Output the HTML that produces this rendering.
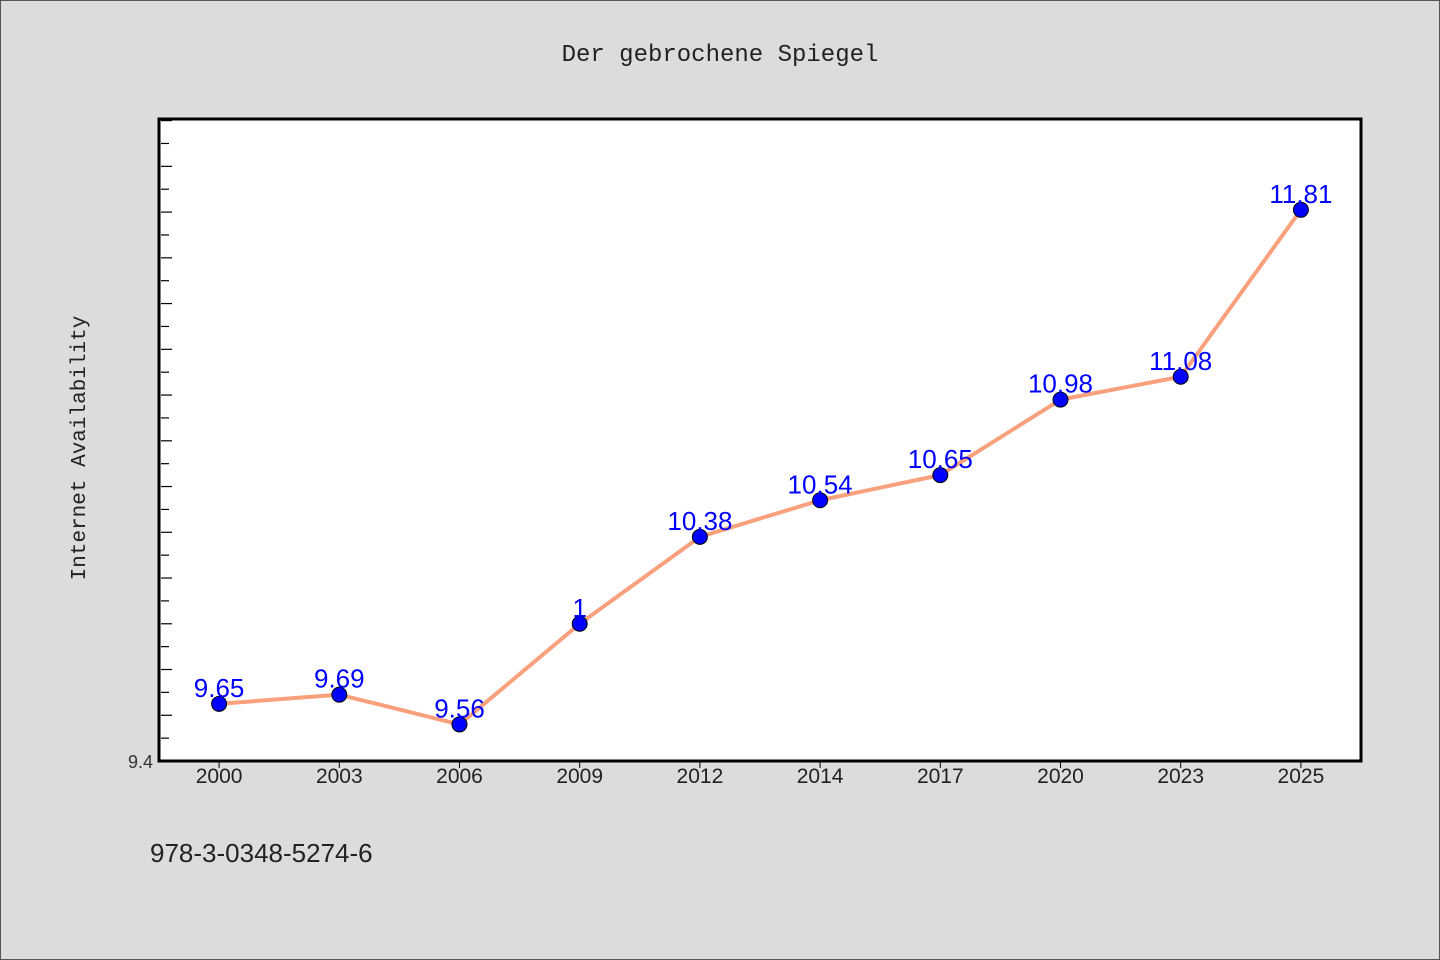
<!DOCTYPE html>
<html><head><meta charset="utf-8"><style>
html,body{margin:0;padding:0;background:#dcdcdc;}
svg{display:block;font-family:"Liberation Sans","WenQuanYi Zen Hei",sans-serif;}
</style></head><body>
<svg width="1440" height="960">
<rect x="0.5" y="0.5" width="1439" height="959" fill="#dcdcdc" stroke="#555"/>
<text x="720" y="61" text-anchor="middle" font-size="24" fill="#222" font-family="'Liberation Mono',monospace">Der gebrochene Spiegel</text>
<rect x="159" y="119" width="1202" height="642" fill="#fff" stroke="#000" stroke-width="3"/>
<g id="ticks"></g>
<text transform="translate(85,448) rotate(-90)" text-anchor="middle" font-size="21" fill="#222" font-family="'Liberation Mono',monospace">Internet Availability</text>
<text x="153" y="768" text-anchor="end" font-size="18" fill="#333">9.4</text>
<g id="xlabels"></g>
<polyline id="line" fill="none" stroke="#f9a07c" stroke-width="4" stroke-linejoin="round"/>
<g id="points"></g>
<text x="150" y="862" font-size="26" fill="#222">978-3-0348-5274-6</text>
</svg>
<script>
const categories=["2000","2003","2006","2009","2012","2014","2017","2020","2023","2025"];
const values=[9.65,9.69,9.56,10.0,10.38,10.54,10.65,10.98,11.08,11.81];
const labels=["9.65","9.69","9.56","1","10.38","10.54","10.65","10.98","11.08","11.81"];
const yMin=9.4,yMax=12.207;
const NS="http://www.w3.org/2000/svg";
const L=159,R=1361,T=119,B=761;
const step=(R-L)/categories.length;
function x(i){return L+step*(i+0.5);}
function y(v){return B-(v-yMin)/(yMax-yMin)*(B-T);}
const tk=document.getElementById('ticks');
for(let k=1;yMin+k*0.1<yMax;k++){
  const v=yMin+k*0.1;const l=document.createElementNS(NS,'line');
  l.setAttribute('x1',161);l.setAttribute('x2',k%2?169:172);
  l.setAttribute('y1',y(v));l.setAttribute('y2',y(v));l.setAttribute('stroke','#000');l.setAttribute('stroke-width','1.2');
  
  
  tk.appendChild(l);
}
const xl=document.getElementById('xlabels');
categories.forEach((c,i)=>{
  const l=document.createElementNS(NS,'line');
  l.setAttribute('x1',x(i));l.setAttribute('x2',x(i));l.setAttribute('y1',762);l.setAttribute('y2',768);l.setAttribute('stroke','#000');
  
  
  xl.appendChild(l);
  const t=document.createElementNS(NS,'text');
  t.setAttribute('x',x(i));t.setAttribute('y',783);t.setAttribute('text-anchor','middle');t.setAttribute('font-size','21');t.setAttribute('fill','#222');
  t.textContent=c;
  
  
  xl.appendChild(t);
});
document.getElementById('line').setAttribute('points',values.map((v,i)=>x(i)+','+y(v)).join(' '));
const pg=document.getElementById('points');
values.forEach((v,i)=>{
  const c=document.createElementNS(NS,'circle');
  c.setAttribute('cx',x(i));c.setAttribute('cy',y(v));c.setAttribute('r',7.5);c.setAttribute('fill','#0000ff');c.setAttribute('stroke','#000');c.setAttribute('stroke-width','1');
  
  
  pg.appendChild(c);
  const t=document.createElementNS(NS,'text');
  t.setAttribute('x',x(i));t.setAttribute('y',y(v)-7);t.setAttribute('text-anchor','middle');t.setAttribute('font-size','26');t.setAttribute('fill','#0000ff');
  t.textContent=labels[i];
  
  
  pg.appendChild(t);
});
</script>
</body></html>
